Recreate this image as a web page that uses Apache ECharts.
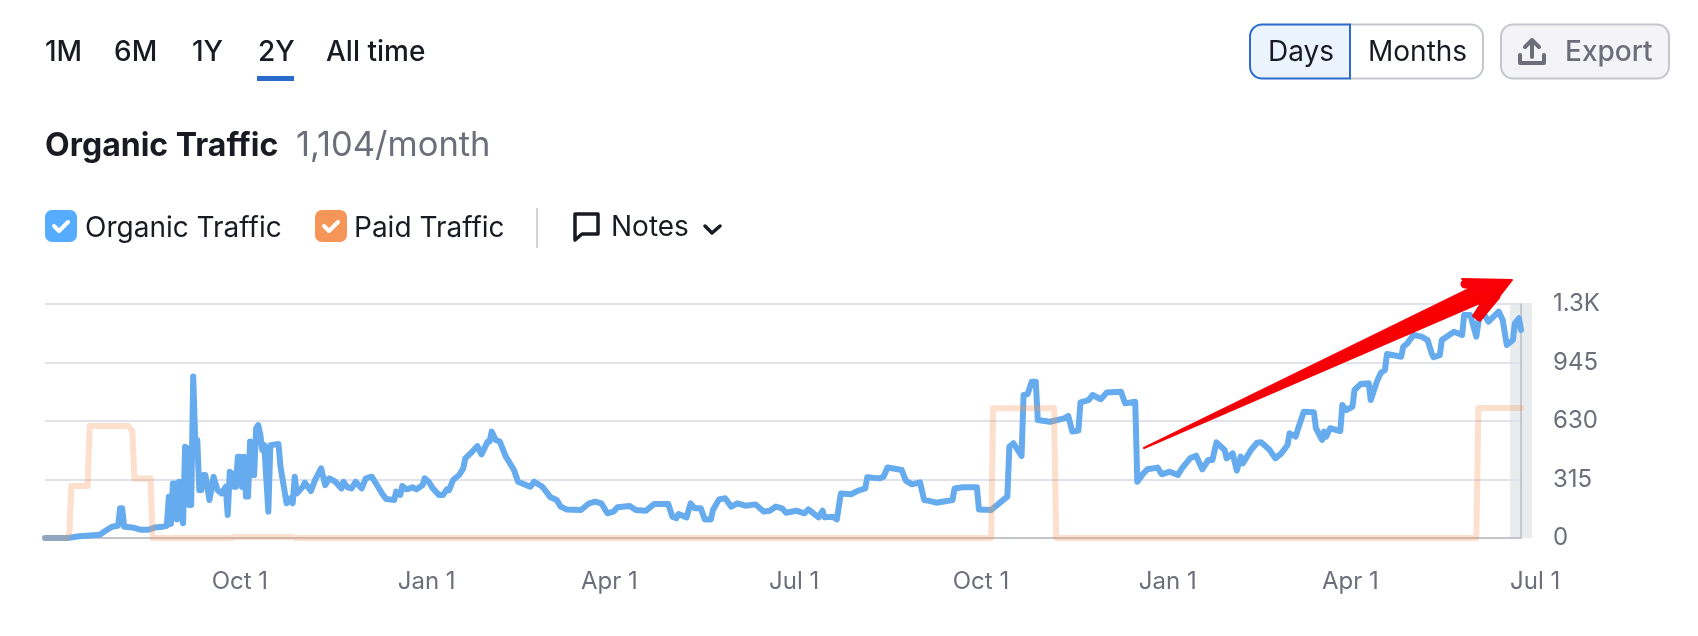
<!DOCTYPE html>
<html>
<head>
<meta charset="utf-8">
<title>Organic Traffic</title>
<script src="https://cdn.jsdelivr.net/npm/echarts@6/dist/echarts.min.js"></script>
<style>
html, body { margin: 0; padding: 0; background: #fff; }
#chart { width: 1698px; height: 636px; }
</style>
</head>
<body>
<div id="chart"></div>
<script>
var startDate = '2021-06-27';
var lastDay = 727;
var labelEndDay = 734;
var tickDates = ['2021-10-01', '2022-01-01', '2022-04-01', '2022-07-01', '2022-10-01', '2023-01-01', '2023-04-01', '2023-07-01'];
var rangeTabs = ['1M', '6M', '1Y', '2Y', 'All time'];

// days since startDate
var organicDays = [
  0, 11, 17, 27, 30, 33, 36, 37, 38, 39, 43, 47, 51, 54, 58,
  60, 61, 62, 63, 64, 65, 66, 67, 68, 69, 70, 71, 72, 73, 74,
  75, 76, 77, 78, 79, 81, 83, 85, 87, 89, 90, 91, 92, 93, 94,
  95, 96, 97, 98, 99, 100, 101, 102, 103, 104, 105, 106, 107, 108, 110,
  111, 115, 116, 119, 121, 122, 123, 124, 127, 128, 131, 133, 136, 138, 140,
  143, 146, 147, 149, 151, 153, 156, 158, 161, 164, 166, 168, 172, 173, 175,
  176, 178, 181, 183, 186, 187, 189, 191, 194, 196, 198, 199, 201, 204, 206,
  207, 210, 213, 215, 218, 219, 220, 222, 224, 227, 231, 233, 239, 241, 245,
  249, 252, 254, 257, 264, 268, 271, 274, 277, 280, 282, 288, 291, 296, 298,
  300, 307, 309, 311, 312, 316, 318, 320, 323, 325, 328, 329, 332, 335, 338,
  341, 345, 350, 354, 357, 360, 363, 365, 370, 374, 376, 381, 383, 384, 388,
  390, 392, 397, 400, 404, 405, 411, 413, 415, 422, 424, 427, 431, 433, 435,
  439, 447, 448, 452, 459, 460, 466, 471, 474, 475, 477, 481, 482, 484, 486,
  488, 489, 495, 502, 504, 506, 509, 510, 514, 516, 520, 523, 530, 532, 537,
  538, 541, 543, 548, 550, 554, 558, 560, 564, 567, 570, 573, 575, 577, 581,
  582, 585, 587, 589, 590, 594, 597, 599, 603, 606, 609, 612, 613, 616, 617,
  620, 625, 626, 629, 630, 631, 633, 638, 639, 641, 644, 645, 648, 652, 653,
  656, 658, 660, 661, 668, 669, 671, 674, 678, 681, 683, 684, 687, 688, 694,
  698, 699, 702, 705, 707, 711, 716, 718, 720, 723, 724, 726, 727
];
var organicValues = [
  0, 0, 9, 18, 40, 61, 66, 160, 160, 61, 57, 45, 45, 56, 61,
  66, 222, 75, 294, 294, 100, 303, 130, 79, 492, 483, 178, 178, 869, 528,
  528, 258, 258, 339, 339, 205, 330, 258, 240, 276, 124, 357, 348, 276, 276,
  438, 438, 276, 438, 223, 223, 519, 339, 339, 590, 608, 560, 474, 501, 142,
  500, 506, 384, 187, 214, 187, 330, 240, 276, 298, 253, 312, 375, 285, 321,
  303, 267, 303, 273, 267, 303, 267, 321, 330, 276, 240, 210, 205, 250, 232,
  280, 262, 273, 262, 285, 321, 303, 267, 232, 232, 262, 258, 312, 339, 375,
  429, 460, 495, 450, 519, 519, 573, 528, 519, 438, 366, 303, 276, 303, 276,
  219, 205, 169, 154, 151, 187, 196, 187, 133, 142, 165, 172, 151, 147, 165,
  183, 183, 115, 106, 129, 111, 187, 160, 160, 100, 100, 151, 208, 214, 169,
  187, 174, 181, 142, 147, 169, 160, 136, 147, 133, 154, 111, 147, 111, 115,
  100, 240, 235, 253, 267, 327, 321, 330, 380, 366, 309, 289, 300, 205, 201,
  190, 205, 267, 273, 273, 154, 151, 196, 223, 492, 510, 442, 770, 775, 842,
  842, 635, 626, 644, 657, 573, 578, 730, 743, 770, 747, 783, 788, 725, 734,
  303, 348, 370, 379, 343, 357, 339, 375, 429, 443, 370, 420, 420, 515, 474,
  429, 456, 363, 438, 402, 474, 513, 515, 477, 429, 456, 501, 564, 546, 582,
  680, 677, 591, 528, 573, 546, 591, 576, 716, 689, 707, 797, 829, 833, 743,
  842, 890, 905, 991, 976, 1030, 1048, 1093, 1084, 1066, 994, 973, 985, 1066, 1111,
  1093, 1201, 1201, 1084, 1237, 1165, 1219, 1174, 1039, 1066, 1156, 1183, 1120
];
var paidDays = [0, 11, 12, 13, 21, 22, 41, 43, 44, 52, 53, 92, 93, 122, 123, 466, 467, 497, 498, 705, 706, 727];
var paidValues = [0, 0, 30, 280, 280, 603, 603, 578, 320, 320, 0, 0, 5, 5, 0, 0, 698, 698, 0, 0, 700, 700];

var INK = '#191b23', GREY = '#6c6e79', BORDER = '#c4c7cf', BLUE = '#2b6bcb';
var FONT = 'Inter';
var dayMs = 86400000;
var startMs = new Date(startDate + 'T00:00:00').getTime();

function toSeries(days, values) {
  return days.map(function (d, i) { return [startMs + d * dayMs, values[i]]; });
}
function txt(text, x, y, size, weight, color) {
  return {
    type: 'text', z: 20, silent: true, x: x, y: y,
    style: { text: text, fill: color, font: weight + ' ' + size + 'px ' + FONT, verticalAlign: 'middle', textAlign: 'left' }
  };
}
function box(x, y, w, h, r, fill, stroke, lw) {
  return { type: 'rect', z: 19, shape: { x: x, y: y, width: w, height: h, r: r }, style: { fill: fill, stroke: stroke, lineWidth: lw } };
}
function stroke(type, points, color, lw) {
  return {
    type: type, z: 20, silent: true, shape: { points: points },
    style: { stroke: color, lineWidth: lw, fill: null, lineCap: 'round', lineJoin: 'round' }
  };
}
function tick(x, y) {
  return stroke('polyline', [[x + 9, y + 16], [x + 14, y + 21], [x + 23, y + 12]], '#fff', 4);
}

var tabX = [45, 114, 192, 258, 326];
var header = rangeTabs.map(function (t, i) { return txt(t, tabX[i], 52.5, 28, 500, INK); });
var barbTop = stroke('polyline', [[1465, 284], [1492, 286]], '#f70008', 9);
var barbBottom = stroke('polyline', [[1479, 316], [1496, 296]], '#f70008', 9);
barbTop.z = 30;
barbBottom.z = 30;
header = header.concat([
  { type: 'rect', z: 19, shape: { x: 257, y: 76, width: 37, height: 5 }, style: { fill: BLUE } },
  // Days / Months toggle
  box(1350, 24.5, 133, 54, [0, 12, 12, 0], '#fff', BORDER, 2),
  box(1250, 24.5, 100, 54, [12, 0, 0, 12], '#ebf3fe', BLUE, 2),
  txt('Days', 1268, 52.5, 28, 400, INK),
  txt('Months', 1368, 52.5, 28, 400, INK),
  // Export button
  box(1501, 24.5, 168, 54, 12, '#f4f4f8', BORDER, 2),
  stroke('polyline', [[1520, 55], [1520, 63], [1544, 63], [1544, 55]], GREY, 4),
  stroke('polyline', [[1532, 57], [1532, 41]], GREY, 4),
  stroke('polyline', [[1525, 47], [1532, 40], [1539, 47]], GREY, 4),
  txt('Export', 1565, 52.5, 28, 500, GREY),
  // title
  txt('Organic Traffic', 45, 146, 32, 700, INK),
  txt('1,104/month', 296, 146, 34.5, 400, GREY),
  // legend
  box(45, 210, 32, 32, 7, '#56adff', null, 0),
  tick(45, 210),
  txt('Organic Traffic', 85, 229, 28, 400, INK),
  box(315, 210, 32, 32, 7, '#f59557', null, 0),
  tick(315, 210),
  txt('Paid Traffic', 354, 229, 28, 400, INK),
  { type: 'line', z: 19, shape: { x1: 537, y1: 208, x2: 537, y2: 248 }, style: { stroke: BORDER, lineWidth: 1.5 } },
  stroke('polygon', [[575, 214], [598, 214], [598, 234], [582, 234], [575, 240]], INK, 3.5),
  txt('Notes', 611, 228, 28, 400, INK),
  stroke('polyline', [[705, 226], [712, 233], [720, 226]], INK, 3.5),
  // shaded band at the end of the range
  { type: 'rect', z: 0, silent: true, shape: { x: 1510, y: 303, width: 22, height: 235 }, style: { fill: '#e9ecee' } },
  // red annotation arrow
  { type: 'polygon', z: 30, silent: true,
    shape: { points: [[1144, 448], [1473, 287], [1462, 279], [1512, 280], [1480, 321], [1473, 316], [1482, 302]] },
    style: {
      stroke: '#f70008', lineWidth: 2, lineJoin: 'round',
      fill: new echarts.graphic.LinearGradient(0, 0, 0.1, 1, [
        { offset: 0, color: '#ff0000' }, { offset: 0.75, color: '#f40006' }, { offset: 1, color: '#d0101a' }
      ])
    } },
  barbTop,
  barbBottom
]);

var chart = echarts.init(document.getElementById('chart'));
var pxPerDay = 1476 / lastDay;

var option = {
  animation: false,
  backgroundColor: '#fff',
  textStyle: { fontFamily: FONT },
  graphic: header,
  grid: [
    { left: 45, top: 304, width: 1476, height: 234 },
    // same time scale, wider, so the last month label can sit past the plot end
    { left: 45, top: 304, width: labelEndDay * pxPerDay, height: 234 }
  ],
  xAxis: [
    {
      type: 'time', gridIndex: 0, min: startMs, max: startMs + lastDay * dayMs,
      axisLine: { lineStyle: { color: '#c2c5cc', width: 2 } },
      axisTick: { show: false }, axisLabel: { show: false }, splitLine: { show: false }
    },
    {
      type: 'value', gridIndex: 1, min: startMs, max: startMs + labelEndDay * dayMs,
      axisLine: { show: false }, axisTick: { show: false }, splitLine: { show: false },
      axisLabel: {
        margin: 32, fontSize: 24, color: GREY, fontFamily: FONT, hideOverlap: false,
        customValues: tickDates.map(function (d) { return new Date(d + 'T00:00:00').getTime(); }),
        formatter: function (v) { return echarts.time.format(v, '{MMM} {d}', false); }
      }
    }
  ],
  yAxis: [
    {
      type: 'value', gridIndex: 0, position: 'right', min: 0, max: 1260, interval: 315,
      axisLine: { show: true, lineStyle: { color: '#b9bdc4', width: 1.5 } },
      axisTick: { show: false },
      splitLine: { lineStyle: { color: '#e2e3ea', width: 2 } },
      axisLabel: {
        margin: 32, fontSize: 24, color: GREY, fontFamily: FONT,
        formatter: function (v) { return v === 1260 ? '1.3K' : String(v); }
      }
    },
    { type: 'value', gridIndex: 1, show: false, min: 0, max: 1260 }
  ],
  series: [
    {
      name: 'Organic Traffic', type: 'line', xAxisIndex: 0, yAxisIndex: 0,
      data: toSeries(organicDays, organicValues), showSymbol: false, z: 3, clip: false,
      lineStyle: { color: '#66abee', width: 6, join: 'round', cap: 'round' }
    },
    {
      name: 'Paid Traffic', type: 'line', xAxisIndex: 0, yAxisIndex: 0,
      data: toSeries(paidDays, paidValues), showSymbol: false, z: 4, clip: false,
      lineStyle: { color: 'rgba(246,150,85,0.3)', width: 6, join: 'round', cap: 'round' }
    }
  ]
};
chart.setOption(option);
</script>
</body>
</html>
